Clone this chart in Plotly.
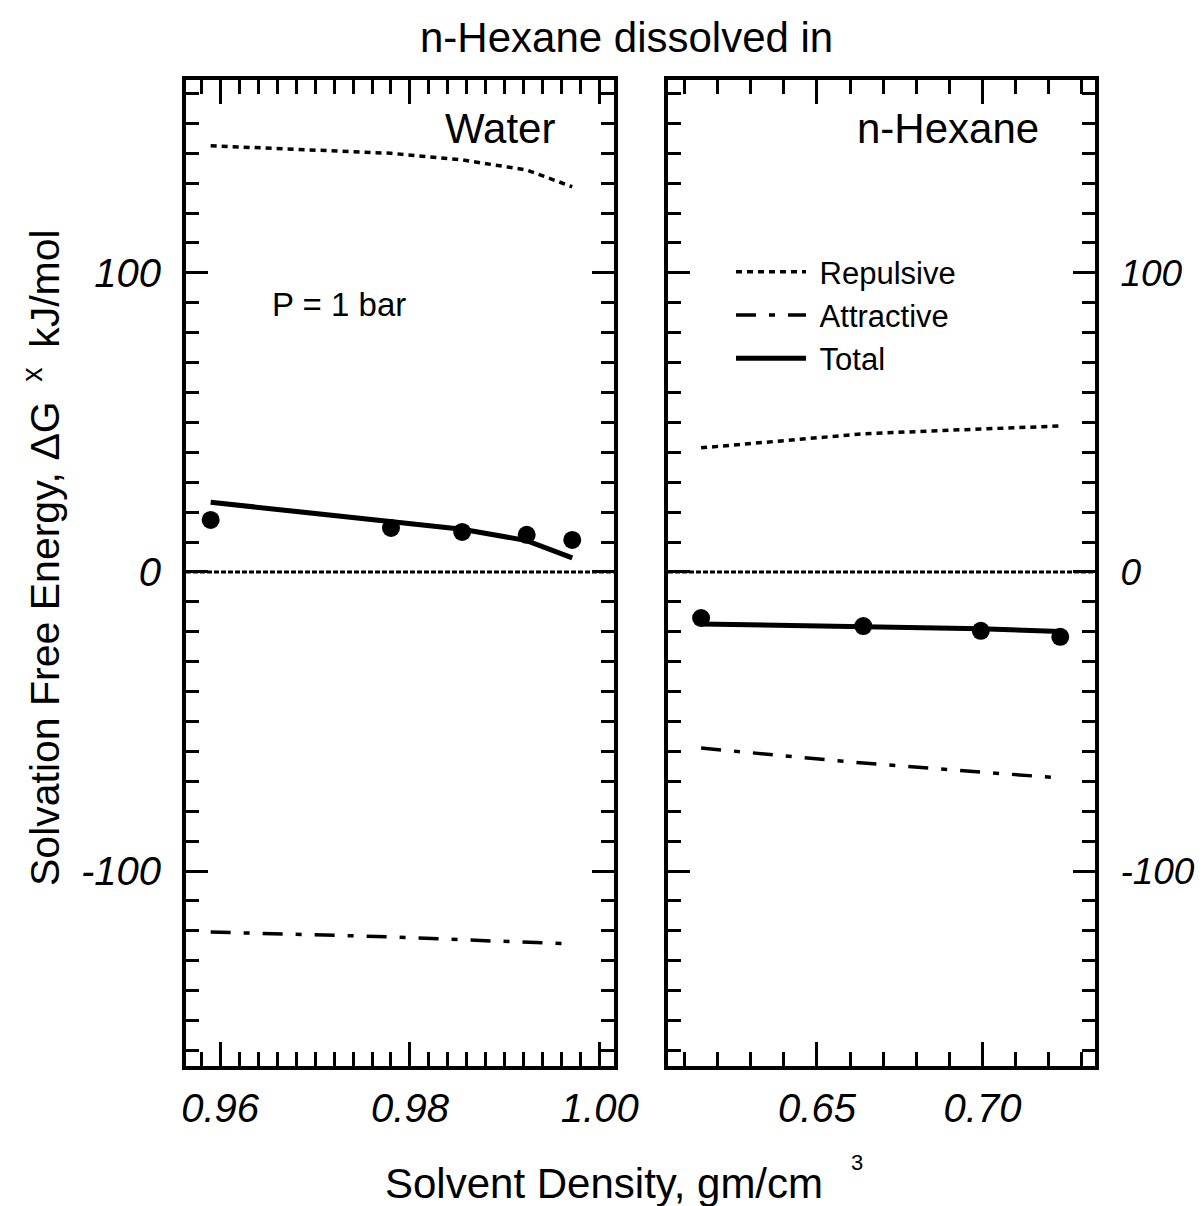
import plotly.graph_objects as go

# ---------------- data ----------------
water_density = [0.959, 0.978, 0.9855, 0.9923, 0.9971]
water_sim = [17.4, 14.7, 13.4, 12.4, 10.7]
water_total = [23.3, 17.0, 14.3, 10.5, 4.7]
water_rep = [142.5, 140.0, 137.8, 134.4, 128.8]
water_att = [-120.4, -122.0, -123.0, -123.7, -124.4]

hexane_density = [0.615, 0.664, 0.6995, 0.7235]
hexane_sim = [-15.4, -18.1, -19.7, -21.7]
hexane_total = [-17.4, -18.1, -19.0, -19.9]
hexane_rep = [41.5, 46.2, 47.8, 48.8]
hexane_att = [-58.9, -63.9, -66.9, -68.9]

water_ticks = [0.96, 0.98, 1.00]
water_ticklabels = ["0.96", "0.98", "1.00"]
hexane_ticks = [0.65, 0.70]
hexane_ticklabels = ["0.65", "0.70"]
y_ticks = [-100, 0, 100]
y_ticklabels = ["-100", "0", "100"]

FONT = "Liberation Sans, Arial, Helvetica, sans-serif"
OFF = 8  # page body margin
W, H = 1204 - OFF, 1206 - OFF

REP_DASH = "6px,5px"
ATT_DASH = "20px,13px,6px,13px"

fig = go.Figure()

def add_panel(xs, sim, total, rep, att, xa, ya, legend):
    fig.add_trace(go.Scatter(x=xs, y=rep, mode="lines", name="\u00a0Repulsive",
                             line=dict(color="black", width=3.5, dash=REP_DASH),
                             xaxis=xa, yaxis=ya, showlegend=legend))
    fig.add_trace(go.Scatter(x=xs, y=att, mode="lines", name="\u00a0Attractive",
                             line=dict(color="black", width=3.5, dash=ATT_DASH),
                             xaxis=xa, yaxis=ya, showlegend=legend))
    fig.add_trace(go.Scatter(x=xs, y=total, mode="lines", name="\u00a0Total",
                             line=dict(color="black", width=5),
                             xaxis=xa, yaxis=ya, showlegend=legend))
    fig.add_trace(go.Scatter(x=xs, y=sim, mode="markers", name="Simulation",
                             marker=dict(color="black", size=18),
                             xaxis=xa, yaxis=ya, showlegend=False))

add_panel(water_density, water_sim, water_total, water_rep, water_att, "x", "y", False)
add_panel(hexane_density, hexane_sim, hexane_total, hexane_rep, hexane_att, "x2", "y2", True)

# zero reference lines
for xr, yr in (("x domain", "y"), ("x2 domain", "y2")):
    fig.add_shape(type="line", xref=xr, yref=yr, x0=0, x1=1, y0=0, y1=0,
                  line=dict(color="black", width=3, dash="5px,2px"), layer="above")

def px_x(p):
    return (p - OFF) / W

def px_y(p):
    return 1 - (p - OFF) / H

tickfont = dict(family=FONT, size=40, color="black", style="italic")

axis_common = dict(showline=True, linecolor="black", linewidth=4, mirror="allticks",
                   ticks="inside", tickwidth=3, tickcolor="black", showgrid=False,
                   zeroline=False, automargin=False)

y_range = [-165.2, 164.5]

fig.update_layout(
    width=W, height=H,
    margin=dict(l=0, r=0, t=0, b=0, autoexpand=False),
    paper_bgcolor="white", plot_bgcolor="white",
    font=dict(family=FONT, color="black"),
    xaxis=dict(domain=[px_x(186), px_x(614)], range=[0.9564, 1.0015], anchor="y",
               tickvals=water_ticks, ticktext=water_ticklabels, ticklen=24,
               ticklabelstandoff=4, tickfont=tickfont,
               minor=dict(dtick=0.002, tick0=0.96, ticks="inside", ticklen=14,
                          tickwidth=3, tickcolor="black", showgrid=False),
               **axis_common),
    yaxis=dict(domain=[px_y(1066), px_y(80)], range=y_range, anchor="x",
               tickvals=y_ticks, ticktext=y_ticklabels, ticklen=22,
               ticklabelstandoff=13, tickfont=tickfont,
               minor=dict(dtick=10, tick0=0, ticks="inside", ticklen=13,
                          tickwidth=3, tickcolor="black", showgrid=False),
               **axis_common),
    xaxis2=dict(domain=[px_x(668), px_x(1095)], range=[0.605, 0.734], anchor="y2",
                tickvals=hexane_ticks, ticktext=hexane_ticklabels, ticklen=24,
                ticklabelstandoff=4, tickfont=tickfont,
                minor=dict(dtick=0.01, tick0=0.6, ticks="inside", ticklen=14,
                           tickwidth=3, tickcolor="black", showgrid=False),
                **axis_common),
    yaxis2=dict(domain=[px_y(1066), px_y(80)], range=y_range, anchor="x2", side="right",
                tickvals=y_ticks, ticktext=y_ticklabels, ticklen=22,
                ticklabelstandoff=14,
                tickfont=dict(family=FONT, size=37, color="black", style="italic"),
                minor=dict(dtick=10, tick0=0, ticks="inside", ticklen=13,
                           tickwidth=3, tickcolor="black", showgrid=False),
                **axis_common),
    legend=dict(x=px_x(731), y=px_y(245), xanchor="left", yanchor="top",
                bgcolor="rgba(0,0,0,0)", font=dict(family=FONT, size=31, color="black"),
                tracegroupgap=0, itemwidth=70),
    showlegend=True,
)

annotations = [
    dict(text="n-Hexane dissolved in", x=px_x(626), y=px_y(37), xref="paper", yref="paper",
         showarrow=False, font=dict(size=42), xanchor="center", yanchor="middle"),
    dict(text="Water", x=px_x(557), y=px_y(128), xref="paper", yref="paper",
         showarrow=False, font=dict(size=42), xanchor="right", yanchor="middle"),
    dict(text="n-Hexane", x=px_x(1041), y=px_y(128), xref="paper", yref="paper",
         showarrow=False, font=dict(size=42), xanchor="right", yanchor="middle"),
    dict(text="P = 1 bar", x=px_x(270), y=px_y(304), xref="paper", yref="paper",
         showarrow=False, font=dict(size=33), xanchor="left", yanchor="middle"),
    dict(text="Solvent Density, gm/cm", x=px_x(604), y=px_y(1183), xref="paper", yref="paper",
         showarrow=False, font=dict(size=42), xanchor="center", yanchor="middle"),
    dict(text="3", x=px_x(857), y=px_y(1162), xref="paper", yref="paper",
         showarrow=False, font=dict(size=22), xanchor="center", yanchor="middle"),
    dict(text="Solvation Free Energy, \u0394G \u2009<sup>x</sup>\u2009 kJ/mol", x=px_x(42), y=px_y(558),
         xref="paper", yref="paper", textangle=-90,
         showarrow=False, font=dict(size=41), xanchor="center", yanchor="middle"),
]
fig.update_layout(annotations=annotations)

fig.write_html("out.html")
